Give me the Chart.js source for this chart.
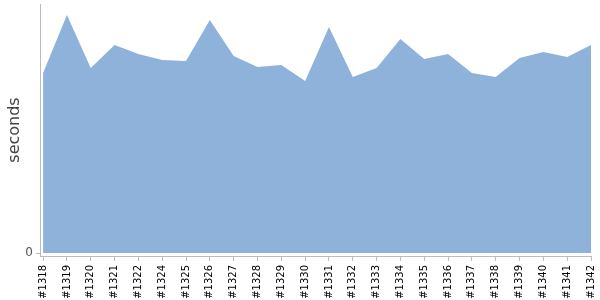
<!DOCTYPE html>
<html>
<head>
<meta charset="utf-8">
<script src="https://cdn.jsdelivr.net/npm/chart.js@4/dist/chart.umd.min.js"></script>
<style>
  html, body { margin: 0; padding: 0; background: #fff; }
  #wrap { width: 600px; height: 300px; }
</style>
</head>
<body>
<div id="wrap"><canvas id="durationChart"></canvas></div>
<script>
const builds = [
  "#1318", "#1319", "#1320", "#1321", "#1322", "#1324", "#1325", "#1326",
  "#1327", "#1328", "#1329", "#1330", "#1331", "#1332", "#1333", "#1334",
  "#1335", "#1336", "#1337", "#1338", "#1339", "#1340", "#1341", "#1342",
];
const durations = [
  180, 238, 185, 208, 199, 193, 192, 233,
  197, 186, 188, 172, 226, 176, 185, 214,
  194, 199, 180, 176, 195, 201, 196, 208,
];
const yTickValues = [0];

const FONT = "'DejaVu Sans', Verdana, sans-serif";
const chartCanvas = document.getElementById("durationChart");

new Chart(chartCanvas, {
  type: "line",
  data: {
    datasets: [
      {
        label: "duration",
        data: durations.map((value, idx) => ({ x: idx, y: value })),
        backgroundColor: "#8fb2db",
        borderColor: "#8fb2db",
        borderWidth: 0,
        pointRadius: 0,
        fill: "origin",
        tension: 0,
      },
    ],
  },
  options: {
    responsive: true,
    maintainAspectRatio: false,
    animation: false,
    layout: { padding: { top: 4, right: 9, left: 0, bottom: 0 } },
    plugins: {
      legend: { display: false },
      tooltip: { enabled: false },
    },
    scales: {
      x: {
        type: "linear",
        min: -0.13,
        max: builds.length - 1,
        afterBuildTicks: (scale) => {
          scale.ticks = builds.map((_, idx) => ({ value: idx }));
        },
        afterFit: (scale) => {
          scale.height = 44;
          scale.paddingRight = 0;
        },
        ticks: {
          autoSkip: false,
          minRotation: 90,
          maxRotation: 90,
          padding: 4,
          color: "#000",
          font: { family: FONT, size: 10 },
          callback: (value) => builds[value] ?? "",
        },
        grid: {
          drawOnChartArea: false,
          tickLength: 5,
          color: "#bbb",
        },
        border: { color: "#bbb" },
      },
      y: {
        min: -3,
        max: 249,
        afterBuildTicks: (scale) => {
          scale.ticks = yTickValues.map((value) => ({ value }));
        },
        afterFit: (scale) => {
          scale.width = 40;
          scale.paddingTop = 0;
        },
        ticks: {
          padding: 3,
          color: "#555",
          font: { family: FONT, size: 12 },
        },
        grid: {
          drawOnChartArea: false,
          tickLength: 4,
          color: "#bbb",
        },
        border: { color: "#bbb" },
        title: {
          display: true,
          text: "seconds",
          color: "#444",
          padding: { top: 5, bottom: 0 },
          font: { family: FONT, size: 16 },
        },
      },
    },
  },
});
</script>
</body>
</html>
